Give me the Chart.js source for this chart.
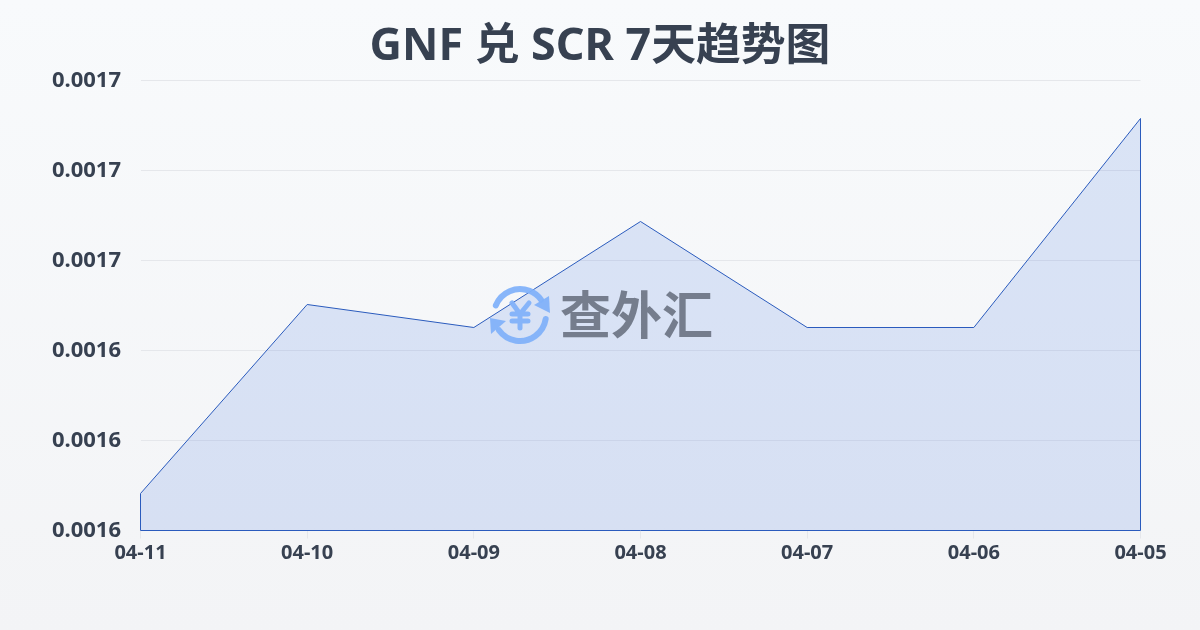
<!DOCTYPE html>
<html lang="zh">
<head>
<meta charset="utf-8">
<title>GNF 兑 SCR 7天趋势图</title>
<script src="https://cdn.jsdelivr.net/npm/chart.js@4/dist/chart.umd.min.js"></script>
<style>
    html, body { margin: 0; padding: 0; }
    body { width: 1200px; height: 630px; overflow: hidden; background: linear-gradient(180deg, #f8fafc 0%, #f3f4f6 100%); }
    canvas { display: block; }
</style>
</head>
<body>
<canvas id="rateChart" width="1200" height="630"></canvas>
<script>
const dates = ['04-11', '04-10', '04-09', '04-08', '04-07', '04-06', '04-05'];
const rates = [0.00160822, 0.00165022, 0.00164511, 0.00166867, 0.00164511, 0.00164511, 0.00169156];
const titleText = 'GNF 兑 SCR 7天趋势图';
const brandText = '查外汇';
const yMin = 0.0016;
const yMax = 0.0017;
const yStep = 0.00002;

const fontFamily = '"Noto Sans", "Noto Sans CJK SC", sans-serif';
const lineColor = '#2a5bbd';

// the reference strokes the whole area outline, not only the top edge
const outlinePlugin = {
    id: 'outline',
    afterDatasetsDraw(chart) {
        const x = chart.scales.x;
        const y = chart.scales.y;
        const last = rates.length - 1;
        const ctx = chart.ctx;
        ctx.save();
        ctx.strokeStyle = lineColor;
        ctx.lineWidth = 1;
        ctx.beginPath();
        ctx.moveTo(x.getPixelForValue(0), y.getPixelForValue(rates[0]));
        ctx.lineTo(x.getPixelForValue(0), y.bottom);
        ctx.lineTo(x.getPixelForValue(last), y.bottom);
        ctx.lineTo(x.getPixelForValue(last), y.getPixelForValue(rates[last]));
        ctx.stroke();
        ctx.restore();
    }
};

const watermarkPlugin = {
    id: 'watermark',
    afterDraw(chart) {
        const ctx = chart.ctx;
        const cx = 520;
        const cy = 315;
        const r = 26;
        ctx.save();

        // circular arrows
        ctx.strokeStyle = 'rgba(130, 178, 250, 0.95)';
        ctx.fillStyle = 'rgba(130, 178, 250, 0.95)';
        ctx.lineWidth = 6;
        ctx.lineCap = 'round';
        ctx.beginPath();
        ctx.arc(cx, cy, r, Math.PI * 1.12, Math.PI * 1.8);
        ctx.stroke();
        ctx.beginPath();
        ctx.arc(cx, cy, r, Math.PI * 0.05, Math.PI * 0.8);
        ctx.stroke();
        ctx.beginPath();
        ctx.moveTo(549, 296);
        ctx.lineTo(550, 313);
        ctx.lineTo(534, 305);
        ctx.closePath();
        ctx.fill();
        ctx.beginPath();
        ctx.moveTo(491, 334);
        ctx.lineTo(490, 318);
        ctx.lineTo(506, 321);
        ctx.closePath();
        ctx.fill();

        // yen sign
        ctx.lineWidth = 5;
        ctx.beginPath();
        ctx.moveTo(512, 303);
        ctx.lineTo(520, 314);
        ctx.lineTo(529, 303);
        ctx.moveTo(520, 314);
        ctx.lineTo(520, 328);
        ctx.moveTo(512, 314);
        ctx.lineTo(528, 314);
        ctx.moveTo(512, 321);
        ctx.lineTo(528, 321);
        ctx.stroke();

        // brand name
        ctx.fillStyle = 'rgba(112, 120, 136, 0.95)';
        ctx.font = 'bold 51px "Noto Sans CJK SC", sans-serif';
        ctx.textAlign = 'left';
        ctx.textBaseline = 'middle';
        ctx.fillText(brandText, 560, 315);
        ctx.restore();
    }
};

new Chart(document.getElementById('rateChart').getContext('2d'), {
    type: 'line',
    data: {
        labels: dates,
        datasets: [{
            data: rates,
            borderColor: lineColor,
            borderWidth: 1,
            backgroundColor: 'rgba(53, 107, 222, 0.15)',
            fill: 'origin',
            tension: 0,
            pointRadius: 0
        }]
    },
    options: {
        responsive: false,
        animation: false,
        plugins: {
            legend: { display: false },
            tooltip: { enabled: false },
            title: {
                display: true,
                text: titleText,
                color: '#374151',
                font: { family: fontFamily, size: 44.8, weight: 'bold' },
                padding: { top: 20.24, bottom: 6.5 }
            }
        },
        scales: {
            x: {
                offset: false,
                afterFit(scale) { scale.height = 99.5; },
                border: { display: false },
                grid: { drawOnChartArea: false, tickColor: '#e5e7eb', tickLength: 8 },
                ticks: {
                    color: '#374151',
                    maxRotation: 0,
                    autoSkip: false,
                    padding: 3,
                    font: { family: fontFamily, size: 20, weight: 'bold' }
                }
            },
            y: {
                min: yMin,
                max: yMax,
                afterFit(scale) { scale.width = 140.5; },
                afterBuildTicks(scale) {
                    scale.ticks = [];
                    for (let i = 0; i <= 5; i++) {
                        scale.ticks.push({ value: yMin + i * yStep });
                    }
                },
                border: { display: false },
                grid: { color: '#e5e7eb', lineWidth: 1, drawTicks: false },
                ticks: {
                    color: '#374151',
                    padding: 19.5,
                    font: { family: fontFamily, size: 22, weight: 'bold' },
                    callback: value => value.toFixed(4)
                }
            },
            // empty axis, only keeps the right margin so the title stays centred on the page
            rightGap: {
                position: 'right',
                afterFit(scale) { scale.width = 59.5; },
                border: { display: false },
                grid: { display: false },
                ticks: { display: false }
            }
        }
    },
    plugins: [outlinePlugin, watermarkPlugin]
});
</script>
</body>
</html>
